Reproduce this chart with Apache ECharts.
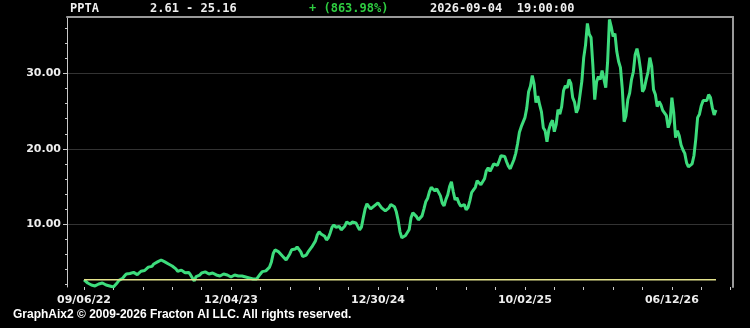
<!DOCTYPE html>
<html><head><meta charset="utf-8">
<script src="https://cdn.jsdelivr.net/npm/echarts@6/dist/echarts.min.js"></script>
<style>html,body{margin:0;padding:0;background:#000;}#c{width:750px;height:328px;}</style>
</head><body><div id="c"></div>
<script>
const symbolText = 'PPTA';
const rangeText = '2.61 - 25.16';
const changeText = '+ (863.98%)';
const timeText = '2026-09-04  19:00:00';
const footerText = 'GraphAix2 \u00a9 2009-2026 Fracton AI LLC. All rights reserved.';
const baseline = 2.61;
const prices = [
2.61,2.35,2.19,2.20,1.93,1.75,1.80,2.05,2.06,2.30,
2.19,1.95,1.93,2.00,1.80,1.70,1.66,1.85,2.19,2.55,
2.73,2.80,3.12,3.40,3.52,3.45,3.66,3.60,3.39,3.30,
3.52,3.75,3.79,3.85,4.06,4.30,4.32,4.40,4.72,4.95,
4.99,4.90,5.25,5.30,4.99,4.75,4.72,4.70,4.45,4.35,
4.06,3.75,3.66,3.90,3.79,3.55,3.66,3.60,3.26,3.00,
2.46,3.05,3.26,3.25,3.52,3.75,3.66,3.45,3.39,3.60,
3.52,3.30,3.26,3.30,3.12,3.15,3.39,3.45,3.26,3.20,
2.99,3.00,3.26,3.35,3.12,3.00,3.12,3.15,2.99,2.95,
2.86,2.70,2.73,2.85,2.73,2.90,3.39,3.70,3.79,3.80,
4.06,4.30,4.99,6.10,6.58,6.60,6.32,6.20,5.78,5.60,
5.25,5.50,6.05,6.60,6.85,6.70,6.98,6.90,6.32,5.70,
5.52,5.90,6.32,6.50,6.98,7.20,7.78,8.60,8.98,8.70,
8.58,8.40,7.91,8.20,8.84,9.60,9.91,9.60,9.64,9.70,
9.24,9.30,9.77,10.30,10.44,10.00,10.31,10.50,10.17,9.70,
9.24,9.60,10.84,12.00,12.70,12.90,12.03,12.00,12.43,12.60,
12.83,13.00,12.17,12.20,11.77,11.70,12.17,12.60,12.43,12.30,
11.64,10.50,8.98,8.20,8.05,8.50,8.31,9.30,10.84,11.50,
11.64,11.00,10.57,10.60,11.10,12.00,12.97,13.40,14.29,14.90,
14.83,14.40,14.69,14.50,13.76,12.80,12.43,13.30,13.90,15.00,
15.63,14.30,13.23,13.50,12.83,12.40,12.57,12.60,11.90,12.20,
13.10,14.20,14.56,14.90,15.76,15.90,15.23,15.10,16.02,17.10,
17.49,17.00,17.49,18.00,17.89,17.80,18.42,19.10,19.35,19.00,
18.28,17.70,17.35,17.60,18.55,19.40,20.68,22.20,22.94,22.80,
24.14,25.40,27.59,28.30,29.72,28.60,26.13,27.00,25.86,24.90,
22.81,22.40,20.94,22.50,23.34,23.80,22.27,23.20,25.20,24.60,
25.60,27.70,28.39,28.10,29.20,28.70,26.80,26.20,24.80,25.40,
27.19,29.00,32.11,33.80,36.64,35.20,34.77,31.00,26.53,28.90,
29.59,29.20,30.39,30.60,28.12,31.50,37.17,36.20,34.91,35.30,
32.91,31.60,30.78,28.00,23.60,24.40,26.53,27.40,29.19,30.20,
32.51,33.30,32.11,30.40,27.59,28.00,29.19,30.20,32.11,31.00,
27.86,27.20,25.60,26.30,25.86,25.10,24.93,24.40,22.81,23.60,
26.80,24.80,21.48,22.40,21.74,20.50,19.88,19.40,18.15,17.60,
17.75,18.00,19.08,21.30,24.14,24.60,25.73,26.40,26.66,26.40,
27.19,26.80,25.47,24.50,25.16
];
const xTickLabels = ['09/06/22','12/04/23','12/30/24','10/02/25','06/12/26'];
const xLabelIndices = [0,80,160,240,320];
const xTickIndices = [0,16,32,48,64,80,96,112,128,144,160,176,192,208,224,240,256,272,288,304,320,336,352];
const yLabelValues = [10,20,30];
const yMinorValues = [2,4,6,8,10,12,14,16,18,20,22,24,26,28,30,32,34,36];

const chart = echarts.init(document.getElementById('c'), null, {renderer:'canvas'});
const last = prices.length - 1;
const pad = 9.26;
const xMin = -pad, xMax = last + pad;
const axisGrey = '#c8c8c8';
chart.setOption({
  backgroundColor: '#000',
  animation: false,
  grid: {left: 67, right: 17, top: 17, bottom: 41},
  xAxis: [{
    type: 'value', min: xMin, max: xMax, position: 'bottom',
    axisLine: {show: false, onZero: false},
    axisTick: {show: true, customValues: xTickIndices, length: 3, lineStyle: {color: axisGrey}},
    axisLabel: {customValues: xLabelIndices, margin: 8, color: '#eee', fontFamily: 'DejaVu Sans', fontWeight: 'bold', fontSize: 11,
      formatter: v => xTickLabels[xLabelIndices.indexOf(v)] || ''},
    splitLine: {show: false}
  }, {
    type: 'value', min: xMin, max: xMax, position: 'top',
    axisLine: {show: true, onZero: false, lineStyle: {color: '#9a9a9a', width: 2}},
    axisTick: {show: false}, axisLabel: {show: false}, splitLine: {show: false}
  }],
  yAxis: [{
    type: 'value', min: 1.66, max: 37.5, position: 'left',
    axisLine: {show: true, onZero: false, lineStyle: {color: axisGrey}},
    axisTick: {show: true, customValues: yLabelValues, length: 4, lineStyle: {color: axisGrey}},
    axisLabel: {customValues: yLabelValues, margin: 6, color: '#eee', fontFamily: 'DejaVu Sans', fontWeight: 'bold', fontSize: 11,
      formatter: v => v.toFixed(2)},
    splitLine: {show: true, lineStyle: {color: '#333', width: 1}}
  }, {
    type: 'value', min: 1.66, max: 37.5, position: 'left',
    axisLine: {show: false, onZero: false},
    axisTick: {show: true, customValues: yMinorValues, length: 2, lineStyle: {color: axisGrey}},
    axisLabel: {show: false}, splitLine: {show: false}
  }, {
    type: 'value', min: 1.66, max: 37.5, position: 'right',
    axisLine: {show: true, onZero: false, lineStyle: {color: '#9a9a9a', width: 2}},
    axisTick: {show: false}, axisLabel: {show: false}, splitLine: {show: false}
  }],
  series: [{
    type: 'line', xAxisIndex: 0, yAxisIndex: 0,
    data: prices.map((v, i) => [i, v]),
    showSymbol: false, symbol: 'none',
    lineStyle: {color: '#3ddc7c', width: 3},
    z: 2
  }, {
    type: 'line', xAxisIndex: 0, yAxisIndex: 0,
    data: [[0, baseline], [last, baseline]],
    showSymbol: false, symbol: 'none',
    lineStyle: {color: '#e2e28c', width: 1.5},
    z: 3
  }],
  graphic: [
    {type: 'text', left: 70, top: 3, style: {text: symbolText, fill: '#eee', font: 'bold 12px "DejaVu Sans Mono"'}},
    {type: 'text', left: 150, top: 3, style: {text: rangeText, fill: '#eee', font: 'bold 12px "DejaVu Sans Mono"'}},
    {type: 'text', left: 309, top: 3, style: {text: changeText, fill: '#2ecc40', font: 'bold 12px "DejaVu Sans Mono"'}},
    {type: 'text', left: 430, top: 3, style: {text: timeText, fill: '#eee', font: 'bold 12px "DejaVu Sans Mono"', whiteSpace: 'pre'}},
    {type: 'text', left: 13, top: 309, style: {text: footerText, fill: '#fff', font: 'bold 12px "Liberation Sans"'}}
  ]
});
</script></body></html>
